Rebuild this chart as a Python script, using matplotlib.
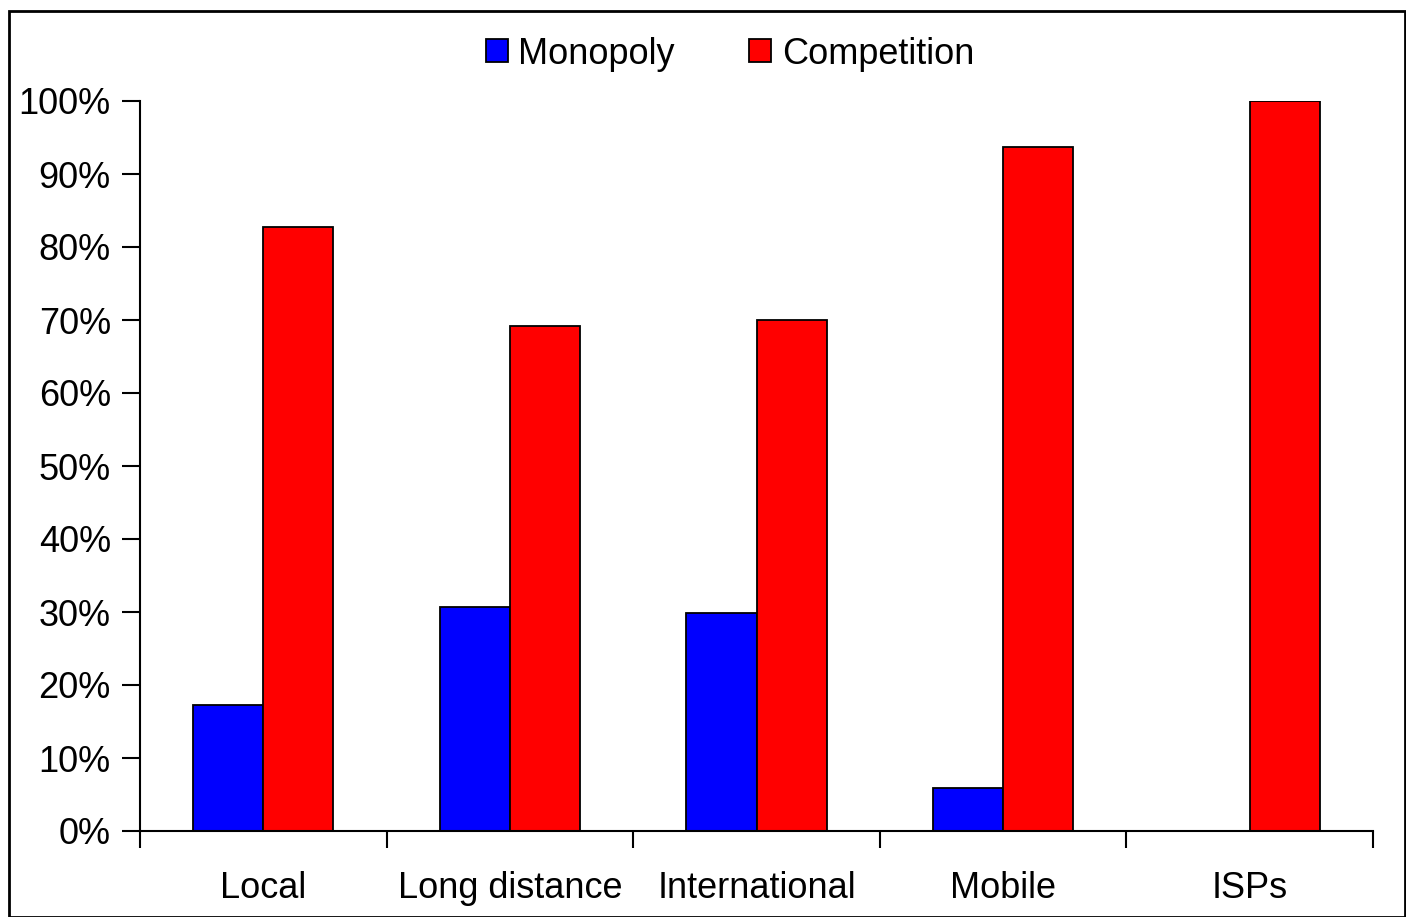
import matplotlib
matplotlib.use("Agg")
import matplotlib.pyplot as plt
from matplotlib.patches import Rectangle
from matplotlib.ticker import FixedLocator, FuncFormatter
import numpy as np

categories = ["Local", "Long distance", "International", "Mobile", "ISPs"]
monopoly = [17.2, 30.7, 29.9, 5.9, 0.0]
competition = [82.7, 69.2, 70.0, 93.7, 100.0]
yticks = [0, 10, 20, 30, 40, 50, 60, 70, 80, 90, 100]

plt.rcParams['font.family'] = ['Liberation Sans', 'DejaVu Sans']

W, H = 1406, 917
fig = plt.figure(figsize=(W / 100, H / 100), dpi=100)
ax = fig.add_axes([140 / W, 1 - 831 / H, (1373 - 140) / W, (831 - 101) / H])

x = np.arange(len(categories))
bw = 0.284
ax.bar(x - bw / 2, monopoly, bw, color="#0000FF", edgecolor="black", linewidth=1.3, label="Monopoly")
ax.bar(x + bw / 2, competition, bw, color="#FF0000", edgecolor="black", linewidth=1.3, label="Competition")

ax.set_xlim(-0.5, len(categories) - 0.5)
ax.set_ylim(0, 100)
for s in ["top", "right"]:
    ax.spines[s].set_visible(False)
for s in ["left", "bottom"]:
    ax.spines[s].set_linewidth(1.5)

ax.set_yticks(yticks)
ax.yaxis.set_major_formatter(FuncFormatter(lambda v, p: f"{int(v)}%"))
ax.tick_params(axis="y", direction="out", length=13, width=1.5, labelsize=26, pad=8)

ax.xaxis.set_major_locator(FixedLocator(np.arange(len(categories) + 1) - 0.5))
ax.xaxis.set_minor_locator(FixedLocator(x))
ax.set_xticklabels([], minor=False)
ax.set_xticklabels(categories, minor=True)
ax.tick_params(axis="x", which="major", direction="out", length=12, width=1.5)
ax.tick_params(axis="x", which="minor", length=0, labelsize=26, pad=29)

handles, labels = ax.get_legend_handles_labels()
fig.legend(handles, labels, loc="center", bbox_to_anchor=(730 / W, 1 - 54 / H), ncol=2,
           frameon=False, fontsize=26, handlelength=0.6, handleheight=0.6,
           handletextpad=0.3, columnspacing=2.05)

fig.patches.append(Rectangle((9 / W, 0), 1 - 9 / W - 1 / W, 1 - 11 / H, transform=fig.transFigure,
                             fill=False, edgecolor="black", linewidth=2))

fig.savefig("out.png", dpi=100)
